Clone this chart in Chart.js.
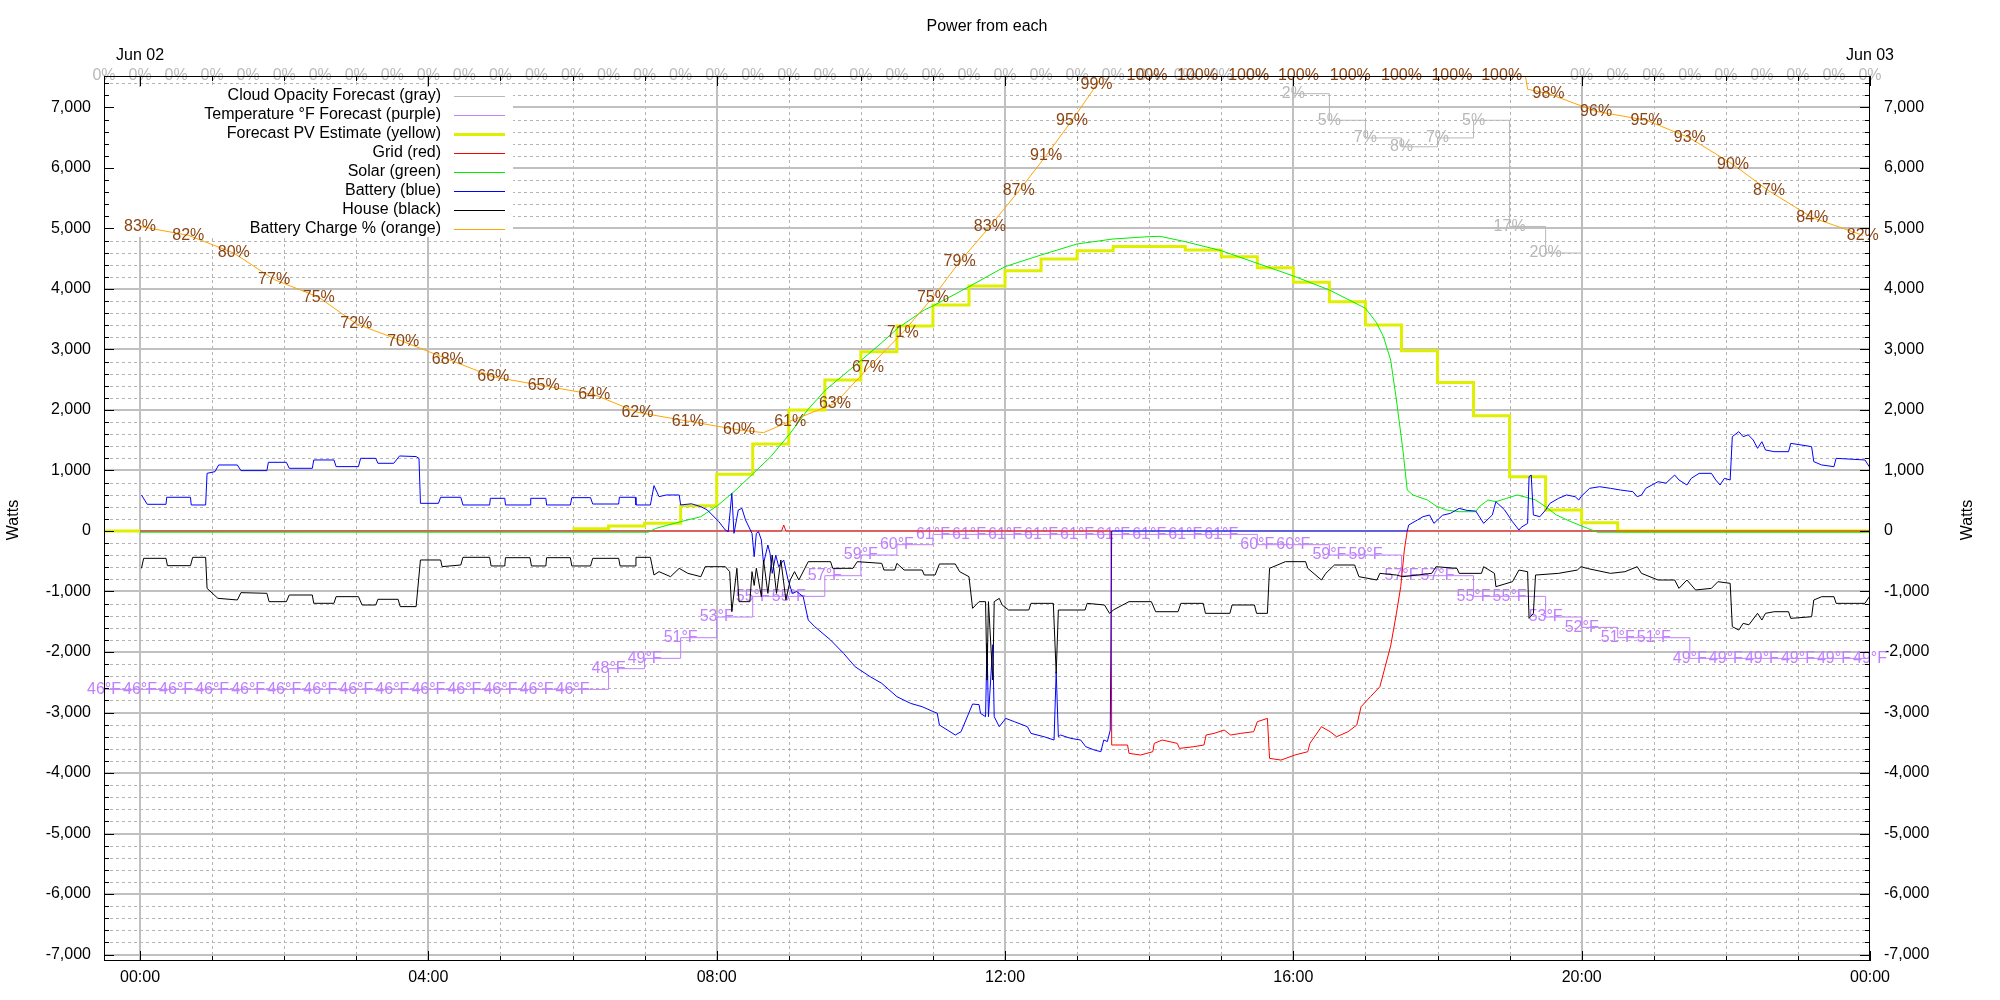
<!DOCTYPE html>
<html>
<head>
<meta charset="utf-8">
<script src="https://cdn.jsdelivr.net/npm/chart.js@4.4.1/dist/chart.umd.min.js"></script>
<style>
  body { margin: 0; background: #fff; }
</style>
</head>
<body>
<canvas id="chart" width="2000" height="1000"></canvas>
<script>
const ctx = document.getElementById("chart");
const FONT = '"Liberation Sans", Arial, sans-serif';

// axis ticks
const wattTicks = [-7000, -6000, -5000, -4000, -3000, -2000, -1000, 0, 1000, 2000, 3000, 4000, 5000, 6000, 7000];
const hourTicks = [0, 4, 8, 12, 16, 20, 24];

// forecast slots, hours after midnight Jun 02 (every 30 min)
const slots = [-0.5, 0, 0.5, 1, 1.5, 2, 2.5, 3, 3.5, 4, 4.5, 5, 5.5, 6, 6.5, 7, 7.5, 8, 8.5, 9,
  9.5, 10, 10.5, 11, 11.5, 12, 12.5, 13, 13.5, 14, 14.5, 15, 15.5, 16, 16.5, 17, 17.5, 18, 18.5, 19,
  19.5, 20, 20.5, 21, 21.5, 22, 22.5, 23, 23.5, 24];
const cloudPct = [0, 0, 0, 0, 0, 0, 0, 0, 0, 0, 0, 0, 0, 0, 0, 0, 0, 0, 0, 0,
  0, 0, 0, 0, 0, 0, 0, 0, 0, 0, 0, 0, 0, 2, 5, 7, 8, 7, 5, 17,
  20, 0, 0, 0, 0, 0, 0, 0, 0, 0];
const tempF = [46, 46, 46, 46, 46, 46, 46, 46, 46, 46, 46, 46, 46, 46, 48, 49, 51, 53, 55, 55,
  57, 59, 60, 61, 61, 61, 61, 61, 61, 61, 61, 61, 60, 60, 59, 59, 57, 57, 55, 55,
  53, 52, 51, 51, 49, 49, 49, 49, 49, 49];
// no yellow trace is visible between 00:00 and 06:00
const pvForecast = [0, 0, null, null, null, null, null, null, null, null, null, null, null, 38, 83, 127, 418, 937, 1438, 2000,
  2496, 2964, 3388, 3735, 4050, 4302, 4496, 4633, 4700, 4700, 4645, 4534, 4352, 4110, 3790, 3405, 2980, 2453, 1906, 898,
  347, 137, 0, 0, 0, 0, 0, 0, 0, 0];

// grid power (W)
const gridT = [0, 8.9, 8.93, 8.96, 13.47, 13.48, 13.7, 13.72, 13.88, 14.05,
  14.07, 14.18, 14.39, 14.42, 14.62, 14.76, 14.79, 14.9, 15.04, 15.13,
  15.27, 15.45, 15.5, 15.64, 15.67, 15.83, 16.02, 16.2, 16.23, 16.39,
  16.51, 16.6, 16.76, 16.88, 16.94, 17.07, 17.2, 17.35, 17.43, 17.49,
  17.54, 17.58, 24];
const gridW = [0, 0, 99, 0, 0, -3537, -3537, -3675, -3703, -3648,
  -3510, -3455, -3510, -3593, -3565, -3537, -3372, -3345, -3290, -3372,
  -3345, -3317, -3152, -3097, -3758, -3786, -3703, -3648, -3510, -3235,
  -3317, -3400, -3317, -3207, -2904, -2738, -2574, -1900, -1361, -920,
  -315, 0, 0];

// solar power (W)
const solarT = [0, 7.05, 7.15, 7.3, 7.5, 7.78, 8.01, 8.24, 8.51, 8.75,
  9.02, 9.26, 9.51, 9.76, 10.01, 10.28, 10.51, 10.88, 11.0, 11.5,
  12.0, 12.5, 13.0, 13.5, 14.0, 14.15, 14.5, 15.0, 15.5, 16.0,
  16.5, 17.0, 17.15, 17.25, 17.35, 17.43, 17.52, 17.58, 17.66, 17.86,
  17.98, 18.12, 18.3, 18.53, 18.58, 18.7, 18.81, 18.96, 19.1, 19.2,
  19.36, 19.5, 19.65, 19.85, 20.08, 20.22, 24];
const solarW = [-20, -20, 40, 90, 154, 236, 418, 650, 953, 1229,
  1614, 2000, 2331, 2579, 2826, 3102, 3350, 3653, 3720, 4038,
  4369, 4562, 4744, 4826, 4865, 4870, 4782, 4633, 4424, 4215,
  3983, 3681, 3450, 3212, 2826, 2165, 1339, 677, 595, 512,
  413, 347, 319, 319, 402, 512, 485, 540, 595, 567,
  512, 402, 264, 154, 44, -20, -20];

// battery power (W)
const battT = [0.02, 0.1, 0.36, 0.37, 0.7, 0.71, 0.91, 0.93, 1.04, 1.09,
  1.35, 1.4, 1.76, 1.78, 2.03, 2.07, 2.39, 2.41, 2.69, 2.72,
  3.03, 3.06, 3.27, 3.3, 3.52, 3.6, 3.83, 3.87, 3.89, 4.14,
  4.17, 4.45, 4.48, 4.85, 4.86, 5.06, 5.07, 5.41, 5.42, 5.63,
  5.64, 5.97, 5.99, 6.25, 6.28, 6.64, 6.65, 6.87, 6.88, 7.08,
  7.13, 7.2, 7.3, 7.48, 7.5, 7.65, 7.78, 7.87, 8.03, 8.12,
  8.16, 8.21, 8.24, 8.3, 8.35, 8.4, 8.49, 8.52, 8.55, 8.58,
  8.62, 8.65, 8.71, 8.74, 8.77, 8.82, 8.86, 8.93, 8.99, 9.05,
  9.11, 9.2, 9.27, 9.36, 9.58, 9.76, 9.92, 10.13, 10.29, 10.5,
  10.69, 10.85, 11.06, 11.09, 11.31, 11.39, 11.55, 11.64, 11.66, 11.73,
  11.75, 11.77, 11.83, 11.85, 11.92, 12.01, 12.13, 12.31, 12.36, 12.54,
  12.68, 12.71, 12.74, 12.77, 12.91, 13.05, 13.12, 13.24, 13.33, 13.37,
  13.42, 13.46, 13.48, 17.58, 17.6, 17.72, 17.8, 17.89, 17.95, 18.07,
  18.18, 18.3, 18.41, 18.53, 18.64, 18.76, 18.81, 18.93, 19.04, 19.13,
  19.16, 19.25, 19.27, 19.3, 19.33, 19.42, 19.5, 19.56, 19.68, 19.79,
  19.91, 19.96, 19.99, 20.11, 20.25, 20.4, 20.54, 20.71, 20.77, 20.83,
  20.89, 21.06, 21.17, 21.29, 21.35, 21.46, 21.52, 21.63, 21.8, 21.86,
  21.92, 21.98, 22.06, 22.09, 22.18, 22.24, 22.31, 22.38, 22.44, 22.5,
  22.55, 22.67, 22.87, 22.9, 23.19, 23.22, 23.33, 23.5, 23.53, 23.93,
  23.99];
const battW = [595, 441, 441, 557, 557, 430, 430, 953, 981, 1091,
  1091, 998, 998, 1135, 1135, 1036, 1036, 1174, 1174, 1064,
  1064, 1201, 1201, 1119, 1119, 1240, 1230, 1200, 457, 457,
  557, 557, 430, 430, 540, 540, 430, 430, 540, 540,
  430, 430, 551, 551, 446, 446, 557, 557, 430, 430,
  750, 568, 595, 595, 430, 450, 402, 347, 154, 16,
  -11, 622, -39, 347, 374, 182, -39, -425, -39, -11,
  -149, -535, -232, -370, -700, -400, -590, -480, -810, -1031,
  -1000, -1086, -1471, -1581, -1802, -2022, -2243, -2408, -2518, -2738,
  -2849, -2904, -3014, -3207, -3372, -3317, -2860, -2870, -3014, -3069,
  -1857, -3069, -1880, -3069, -3234, -3097, -3152, -3234, -3345, -3400,
  -3455, -2325, -3400, -3372, -3427, -3455, -3565, -3620, -3648, -3455,
  -3480, -3290, 0, 0, 99, 181, 237, 264, 126, 260,
  292, 374, 340, 330, 126, 264, 484, 350, 154, 16,
  60, 126, 898, 925, 264, 237, 347, 457, 540, 595,
  567, 512, 567, 705, 732, 705, 677, 650, 567, 595,
  705, 815, 790, 925, 843, 760, 870, 953, 953, 843,
  760, 870, 843, 1559, 1642, 1559, 1590, 1504, 1366, 1476,
  1339, 1311, 1311, 1449, 1394, 1146, 1091, 1063, 1201, 1174,
  1063];

// house power (W)
const houseT = [0.02, 0.05, 0.36, 0.38, 0.7, 0.73, 0.91, 0.93, 1.08, 1.35,
  1.4, 1.76, 1.79, 2.03, 2.07, 2.39, 2.41, 2.69, 2.72, 3.03,
  3.08, 3.27, 3.3, 3.58, 3.61, 3.83, 3.89, 4.17, 4.19, 4.45,
  4.48, 4.85, 4.87, 5.06, 5.07, 5.41, 5.43, 5.63, 5.64, 5.97,
  5.99, 6.25, 6.28, 6.64, 6.66, 6.87, 6.88, 7.08, 7.13, 7.2,
  7.36, 7.48, 7.6, 7.78, 7.84, 8.12, 8.18, 8.21, 8.28, 8.31,
  8.46, 8.49, 8.52, 8.55, 8.62, 8.65, 8.71, 8.77, 8.83, 8.89,
  8.96, 9.02, 9.08, 9.14, 9.27, 9.58, 9.61, 9.89, 9.95, 10.29,
  10.32, 10.47, 10.5, 10.6, 10.85, 10.88, 11.03, 11.09, 11.31, 11.37,
  11.5, 11.55, 11.64, 11.73, 11.75, 11.77, 11.83, 11.85, 11.92, 11.96,
  12.05, 12.33, 12.36, 12.67, 12.71, 12.74, 13.11, 13.14, 13.38, 13.45,
  13.51, 13.72, 14.03, 14.09, 14.4, 14.44, 14.75, 14.78, 15.12, 15.15,
  15.46, 15.49, 15.64, 15.67, 15.89, 16.17, 16.2, 16.39, 16.45, 16.57,
  16.85, 16.91, 17.16, 17.2, 17.43, 17.52, 17.92, 17.98, 18.27, 18.3,
  18.61, 18.64, 18.79, 18.81, 19.04, 19.13, 19.25, 19.27, 19.33, 19.36,
  19.68, 19.94, 19.99, 20.08, 20.4, 20.6, 20.77, 20.83, 21.06, 21.29,
  21.35, 21.46, 21.58, 21.8, 21.89, 22.06, 22.09, 22.18, 22.24, 22.32,
  22.44, 22.5, 22.55, 22.67, 22.87, 22.9, 23.19, 23.22, 23.33, 23.5,
  23.53, 23.93, 23.99];
const houseW = [-617, -452, -452, -573, -573, -435, -435, -948, -1113, -1140,
  -1019, -1030, -1168, -1168, -1058, -1058, -1195, -1195, -1085, -1085,
  -1223, -1223, -1129, -1129, -1250, -1250, -479, -479, -589, -562,
  -435, -435, -578, -578, -441, -441, -578, -578, -441, -441,
  -578, -578, -452, -452, -578, -578, -435, -435, -727, -672,
  -755, -617, -700, -755, -590, -590, -672, -1334, -617, -1168,
  -1168, -672, -900, -617, -1086, -480, -1031, -397, -1031, -480,
  -1141, -810, -672, -810, -507, -507, -617, -617, -507, -535,
  -645, -645, -535, -645, -645, -727, -727, -545, -545, -672,
  -755, -1278, -1168, -1168, -2463, -1168, -2463, -1168, -1113, -1223,
  -1306, -1306, -1196, -1196, -2353, -1306, -1306, -1196, -1223, -1361,
  -1300, -1168, -1168, -1334, -1334, -1196, -1196, -1361, -1361, -1223,
  -1223, -1361, -1361, -617, -507, -507, -617, -810, -700, -562,
  -562, -755, -810, -700, -728, -755, -700, -590, -618, -700,
  -700, -590, -700, -920, -838, -645, -673, -1444, -1361, -728,
  -700, -645, -590, -620, -700, -673, -590, -700, -810, -810,
  -948, -810, -975, -948, -838, -865, -1582, -1637, -1527, -1550,
  -1361, -1472, -1361, -1334, -1334, -1444, -1417, -1141, -1086, -1086,
  -1196, -1196, -1086];

// battery state of charge (%)
const socT = [0, 0.67, 1.3, 1.86, 2.48, 3.0, 3.65, 4.27, 4.9, 5.6,
  6.3, 6.9, 7.6, 8.31, 8.65, 9.02, 9.64, 10.1, 10.58, 11.0,
  11.37, 11.79, 12.19, 12.57, 12.93, 13.27, 13.35, 13.97, 14.67, 15.38,
  16.07, 16.79, 17.5, 18.2, 18.89, 19.22, 19.25, 19.54, 20.2, 20.9,
  21.5, 22.1, 22.6, 23.2, 23.9];
const socPct = [83, 82, 80, 77, 75, 72, 70, 68, 66, 65,
  64, 62, 61, 60, 59.7, 61, 63, 67, 71, 75,
  79, 83, 87, 91, 95, 99, 100, 100, 100, 100,
  100, 100, 100, 100, 100, 100, 98.5, 98, 96, 95,
  93, 90, 87, 84, 82];
const socLabels = ["83%", "82%", "80%", "77%", "75%", "72%", "70%", "68%", "66%", "65%",
  "64%", "62%", "61%", "60%", "", "61%", "63%", "67%", "71%", "75%",
  "79%", "83%", "87%", "91%", "95%", "99%", "", "100%", "100%", "100%",
  "100%", "100%", "100%", "100%", "100%", "", "", "98%", "96%", "95%",
  "93%", "90%", "87%", "84%", "82%"];

function toPoints(xs, ys) {
  return xs.map((x, i) => ({ x: x, y: ys[i] }));
}

function hhmm(v) {
  const h = ((v % 24) + 24) % 24;
  return (h < 10 ? "0" : "") + h + ":00";
}

function line(c, x1, y1, x2, y2) {
  c.beginPath();
  c.moveTo(x1, y1);
  c.lineTo(x2, y2);
  c.stroke();
}

const datasets = [
  { label: "Cloud Opacity Forecast (gray)", data: toPoints(slots, cloudPct), yAxisID: "yCloud",
    borderColor: "#b8b8b8", borderWidth: 1, stepped: true, order: 8,
    marks: cloudPct.map(v => v + "%"), markColor: "#b8b8b8" },
  { label: "Temperature \u00b0F Forecast (purple)", data: toPoints(slots, tempF), yAxisID: "yTemp",
    borderColor: "#c080ff", borderWidth: 1, stepped: true, order: 7,
    marks: tempF.map(v => v + "\u00b0F"), markColor: "#c080ff" },
  { label: "Forecast PV Estimate (yellow)", data: toPoints(slots, pvForecast), yAxisID: "y",
    borderColor: "#e0ef00", borderWidth: 3, stepped: true, order: 6 },
  { label: "Grid (red)", data: toPoints(gridT, gridW), yAxisID: "y",
    borderColor: "#ff0000", borderWidth: 1, order: 5 },
  { label: "Solar (green)", data: toPoints(solarT, solarW), yAxisID: "y",
    borderColor: "#00ee00", borderWidth: 1, order: 4 },
  { label: "Battery (blue)", data: toPoints(battT, battW), yAxisID: "y",
    borderColor: "#0000ff", borderWidth: 1, order: 3 },
  { label: "House (black)", data: toPoints(houseT, houseW), yAxisID: "y",
    borderColor: "#000000", borderWidth: 1, order: 2 },
  { label: "Battery Charge % (orange)", data: toPoints(socT, socPct), yAxisID: "yPct",
    borderColor: "#ffa500", borderWidth: 1, order: 1,
    marks: socLabels, markColor: "#8b4513" }
];

const layers = {
  id: "layers",
  beforeDatasetsDraw(chart) {
    const c = chart.ctx, a = chart.chartArea, sx = chart.scales.x, sy = chart.scales.y;
    c.save();
    c.lineWidth = 1;
    c.strokeStyle = "#b4b4b4";
    c.setLineDash([3, 3]);
    for (let w = -7000; w < 7520; w += 200) {
      if (w % 1000 === 0) continue;
      const py = Math.round(sy.getPixelForValue(w)) + 0.5;
      line(c, a.left, py, a.right, py);
    }
    for (let h = 1; h < 24; h++) {
      if (h % 4 === 0) continue;
      const px = Math.round(sx.getPixelForValue(h)) + 0.5;
      line(c, px, a.top, px, a.bottom);
    }
    c.setLineDash([]);
    c.lineWidth = 2;
    c.strokeStyle = "#c0c0c0";
    wattTicks.forEach(w => {
      const py = Math.round(sy.getPixelForValue(w));
      line(c, a.left, py, a.right, py);
    });
    hourTicks.forEach(h => {
      if (h === 24) return;
      const px = Math.round(sx.getPixelForValue(h));
      line(c, px, a.top, px, a.bottom);
    });
    // opaque key box
    c.fillStyle = "#fff";
    c.fillRect(a.left + 1, 87, 513 - a.left - 1, 150);
    c.restore();
  },
  afterDatasetDraw(chart, args) {
    const ds = chart.data.datasets[args.index];
    if (!ds.marks) return;
    const c = chart.ctx;
    c.save();
    c.font = "16px " + FONT;
    c.fillStyle = ds.markColor;
    c.textAlign = "center";
    c.textBaseline = "middle";
    args.meta.data.forEach((pt, i) => {
      if (ds.marks[i]) c.fillText(ds.marks[i], pt.x, pt.y);
    });
    c.restore();
  },
  afterDatasetsDraw(chart) {
    const c = chart.ctx, a = chart.chartArea, sx = chart.scales.x, sy = chart.scales.y;
    c.save();
    c.strokeStyle = "#000";
    c.lineWidth = 1;
    c.strokeRect(Math.round(a.left) + 0.5, Math.round(a.top) + 0.5,
      Math.round(a.right - a.left) - 1, Math.round(a.bottom - a.top) - 1);
    for (let w = -7000; w < 7520; w += 200) {
      const len = w % 1000 === 0 ? 10 : 5;
      const py = Math.round(sy.getPixelForValue(w)) + 0.5;
      line(c, a.left, py, a.left + len, py);
      line(c, a.right - len, py, a.right, py);
    }
    for (let h = 0; h <= 24; h++) {
      const len = h % 4 === 0 ? 10 : 5;
      const px = Math.round(sx.getPixelForValue(h)) + 0.5;
      line(c, px, a.bottom, px, a.bottom - len);
      line(c, px, a.top, px, a.top + len);
    }

    // key
    c.font = "16px " + FONT;
    c.textBaseline = "middle";
    chart.data.datasets.forEach((ds, i) => {
      const y = 95.7 + i * 19.05;
      c.fillStyle = "#000";
      c.textAlign = "right";
      c.fillText(ds.label, 441, y);
      c.strokeStyle = ds.borderColor;
      c.lineWidth = ds.borderWidth;
      const ly = ds.borderWidth % 2 ? Math.round(y) + 0.5 : Math.round(y);
      line(c, 454, ly, 505, ly);
    });

    c.fillStyle = "#000";
    c.textAlign = "center";
    c.fillText("Power from each", (a.left + a.right) / 2, 27);
    c.fillText("Jun 02", sx.getPixelForValue(0), 56);
    c.fillText("Jun 03", sx.getPixelForValue(24), 56);
    [13.5, 1968].forEach(x => {
      c.save();
      c.translate(x, 520);
      c.rotate(-Math.PI / 2);
      c.fillText("Watts", 0, 0);
      c.restore();
    });
    c.restore();
  }
};

const tickFont = { family: FONT, size: 16 };
const setTicks = list => s => { s.ticks = list.map(v => ({ value: v })); };

new Chart(ctx, {
  type: "line",
  data: { datasets: datasets },
  options: {
    responsive: false,
    animation: false,
    devicePixelRatio: 1,
    layout: { padding: { top: 76, left: 0, right: 0, bottom: 0 } },
    elements: { point: { radius: 0, hitRadius: 0 }, line: { tension: 0 } },
    plugins: { legend: { display: false }, tooltip: { enabled: false }, title: { display: false } },
    scales: {
      x: {
        type: "linear", position: "bottom", min: -0.5, max: 24,
        grid: { display: false, drawTicks: false }, border: { display: false },
        ticks: { autoSkip: false, maxRotation: 0, padding: 7,
          color: "#000", font: tickFont, callback: v => hhmm(v) },
        afterBuildTicks: setTicks(hourTicks),
        afterFit: s => { s.height = 39; }
      },
      y: {
        type: "linear", position: "left", min: -7107, max: 7520,
        grid: { display: false, drawTicks: false }, border: { display: false },
        ticks: { autoSkip: false, padding: 13, color: "#000", font: tickFont,
          callback: v => v.toLocaleString("en-US") },
        afterBuildTicks: setTicks(wattTicks),
        afterFit: s => { s.width = 104; }
      },
      yR: {
        type: "linear", position: "right", min: -7107, max: 7520,
        grid: { display: false, drawTicks: false }, border: { display: false },
        ticks: { autoSkip: false, padding: 14, color: "#000", font: tickFont,
          callback: v => v.toLocaleString("en-US") },
        afterBuildTicks: setTicks(wattTicks),
        afterFit: s => { s.width = 130; }
      },
      yTemp: { type: "linear", display: false, min: 19.71, max: 105.36 },
      yCloud: { type: "linear", display: false, min: 0, max: 100, reverse: true },
      yPct: { type: "linear", display: false, min: 0, max: 100 }
    }
  },
  plugins: [layers]
});
</script>
</body>
</html>
